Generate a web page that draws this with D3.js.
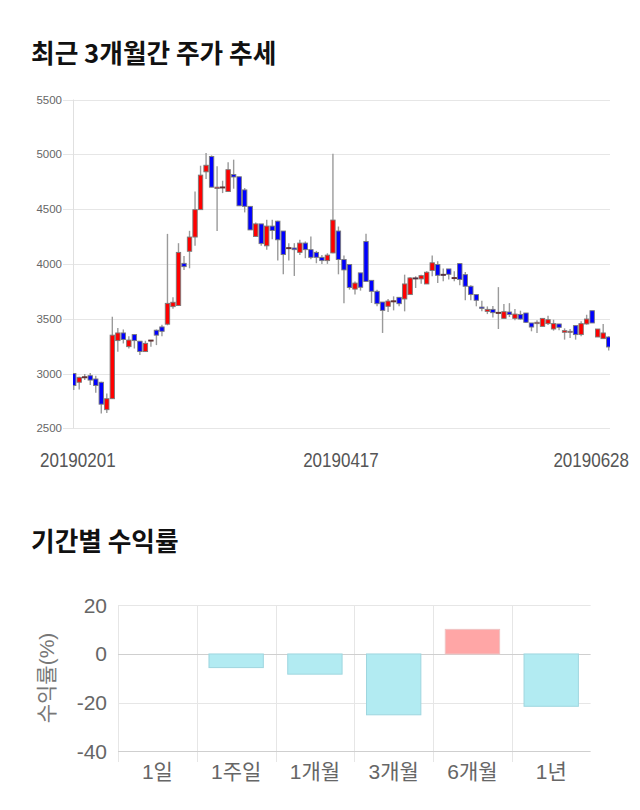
<!DOCTYPE html>
<html>
<head>
<meta charset="utf-8">
<script src="https://cdn.jsdelivr.net/npm/d3@7"></script>
<style>
  html, body { margin: 0; padding: 0; background: #fff; }
  svg { display: block; }
</style>
</head>
<body>
<script>
// ---------- Data ----------
const chartTitle = "최근 3개월간 주가 추세";
const returnsTitle = "기간별 수익률";

const openPrices = [3000,2920,2965,2980,2950,2920,2670,2770,3300,3370,3245,3355,3295,3200,3300,3395,3425,3450,3610,3620,
  4005,4115,4245,4495,4840,4980,4688,4700,4660,4815,4795,4675,4525,4250,4365,4165,4345,4390,4300,4145,
  4145,4105,4190,4130,4105,4060,4030,4100,4300,4040,3995,3770,3918,4205,3850,3750,3652,3613,3658,3695,
  3680,3720,3872,3863,3817,3940,3994,3905,3954,3868,4003,3902,3796,3720,3606,3567,3585,3555,3503,3561,
  3503,3539,3552,3461,3455,3430,3455,3406,3452,3376,3376,3437,3355,3452,3573,3333,3318,3333];
const highPrices = [3000,2970,2995,3005,2980,2925,2817,3518,3415,3402,3341,3356,3296,3299,3305,3402,3445,4274,3695,4189,
  4073,4302,4661,4896,5012,4990,4890,4759,4927,4951,4795,4692,4525,4378,4365,4402,4402,4393,4300,4189,
  4189,4220,4205,4250,4119,4082,4097,5006,4341,4076,3995,3840,3918,4274,3850,3765,3652,3680,3704,3695,
  3902,3878,3887,3902,3933,4076,4024,3957,3954,3933,4003,3927,3805,3720,3664,3612,3615,3788,3633,3642,
  3588,3573,3552,3461,3485,3503,3527,3491,3452,3412,3406,3437,3476,3536,3573,3406,3452,3340];
const lowPrices = [2850,2855,2940,2895,2825,2634,2640,2768,3198,3274,3228,3228,3168,3198,3245,3259,3341,3440,3590,3619,
  3945,3960,4165,4494,4774,4700,4300,4646,4660,4686,4530,4470,4310,4250,4165,4128,4225,4030,3905,4030,
  3890,4082,4052,4043,4006,4000,4000,4097,3905,3640,3765,3720,3756,3840,3643,3613,3370,3561,3576,3613,
  3567,3720,3780,3820,3817,3887,3826,3841,3857,3841,3805,3668,3668,3613,3567,3542,3512,3406,3503,3515,
  3485,3491,3461,3385,3370,3430,3442,3391,3394,3309,3324,3309,3340,3446,3461,3333,3318,3210];
const closePrices = [2890,2965,2970,2940,2890,2720,2770,3350,3370,3310,3305,3300,3200,3275,3305,3350,3385,3640,3650,4105,
  3975,4245,4495,4810,4900,4700,4700,4702,4860,4793,4530,4525,4310,4365,4185,4345,4305,4220,4085,4148,
  4130,4190,4130,4060,4060,4030,4080,4400,4040,3945,3785,3825,3787,3840,3750,3637,3576,3661,3663,3637,
  3817,3872,3865,3893,3924,4010,3896,3902,3905,3875,3857,3796,3720,3668,3594,3585,3555,3558,3564,3539,
  3542,3497,3467,3424,3467,3503,3491,3455,3421,3391,3385,3355,3455,3497,3461,3406,3370,3242];

const priceTicks = [2500, 3000, 3500, 4000, 4500, 5000, 5500];
const dateLabels = ["20190201", "20190417", "20190628"];
const dateLabelIndex = [0, 49, 97];

const periods = ["1일", "1주일", "1개월", "3개월", "6개월", "1년"];
const periodReturns = [0, -5.6, -8.3, -25.0, 10.1, -21.5];
const returnTicks = [-40, -20, 0, 20];
const returnAxisTitle = "수익률(%)";

// ---------- Setup ----------
const W = 640, H = 810;
const svg = d3.select("body").append("svg").attr("width", W).attr("height", H);
svg.append("rect").attr("width", W).attr("height", H).attr("fill", "#fff");

const hangulFont = "'Noto Sans CJK KR', 'Noto Sans', sans-serif";
const latinFont = "'Liberation Sans', Arial, 'Noto Sans CJK KR', sans-serif";

// ---------- Title 1 ----------
svg.append("text").attr("x", 31).attr("y", 63)
  .attr("font-family", hangulFont).attr("font-weight", "bold").attr("font-size", 25.7)
  .attr("fill", "#111").text(chartTitle);

// ---------- Candlestick chart ----------
const n = openPrices.length;
const candles = d3.range(n).map(i => ({i, o: openPrices[i], h: highPrices[i], l: lowPrices[i], c: closePrices[i]}));

const cx0 = 73.7, cx1 = 608.7;
const x = d3.scaleLinear().domain([0, n - 1]).range([cx0, cx1]);
const y = d3.scaleLinear().domain([2500, 5500]).range([428.3, 99.5]);

const grid = svg.append("g");
priceTicks.forEach(t => {
  grid.append("line").attr("x1", 63).attr("x2", 610)
    .attr("y1", Math.round(y(t)) + 0.5).attr("y2", Math.round(y(t)) + 0.5)
    .attr("stroke", "#e6e6e6").attr("stroke-width", 1);
  grid.append("text").attr("x", 62).attr("y", y(t)).attr("dy", "0.35em")
    .attr("text-anchor", "end").attr("font-family", latinFont).attr("font-size", 11.5)
    .attr("fill", "#666").text(t);
});
grid.append("line").attr("x1", 73.5).attr("x2", 73.5).attr("y1", y(5500)).attr("y2", y(2500))
  .attr("stroke", "#e0e0e0").attr("stroke-width", 1);

svg.append("defs").append("clipPath").attr("id", "plotClip")
  .append("rect").attr("x", 73).attr("y", 90).attr("width", 610 - 73).attr("height", 350);

const cg = svg.append("g").attr("clip-path", "url(#plotClip)");
const bodyW = 4.4;
cg.selectAll("line.wick").data(candles).join("line").attr("class", "wick")
  .attr("x1", d => x(d.i)).attr("x2", d => x(d.i))
  .attr("y1", d => y(d.h)).attr("y2", d => y(d.l))
  .attr("stroke", "#9a9a9a").attr("stroke-width", 1.4);
cg.selectAll("rect.body").data(candles).join("rect").attr("class", "body")
  .attr("x", d => x(d.i) - bodyW / 2).attr("width", bodyW)
  .attr("y", d => y(Math.max(d.o, d.c)))
  .attr("height", d => Math.max(1, Math.abs(y(d.o) - y(d.c))))
  .attr("fill", d => d.c >= d.o ? "#ff0000" : "#0000ff")
  .attr("stroke", d => Math.abs(d.c - d.o) < 8 ? "#553333" : "#7a7a7a").attr("stroke-width", 0.9);

// date labels (kept inside the picture edges)
dateLabels.forEach((lab, k) => {
  const t = svg.append("text").attr("font-family", latinFont).attr("font-size", 21)
    .attr("fill", "#555").attr("text-anchor", "middle").text(lab);
  const cxl = x(dateLabelIndex[k]) - 3;
  const sx = 0.81;
  t.attr("transform", `translate(${cxl},467) scale(${sx},1)`);
  const w = t.node().getComputedTextLength() * sx;
  let cx = cxl;
  if (cx - w / 2 < 40) cx = 40 + w / 2;
  if (cx + w / 2 > 629) cx = 629 - w / 2;
  t.attr("transform", `translate(${cx},467) scale(${sx},1)`);
});

// ---------- Title 2 ----------
svg.append("text").attr("x", 31).attr("y", 551)
  .attr("font-family", hangulFont).attr("font-weight", "bold").attr("font-size", 25.7)
  .attr("fill", "#111").text(returnsTitle);

// ---------- Returns bar chart ----------
const bx = d3.scaleBand().domain(periods).range([118, 590.6]).paddingInner(0.31).paddingOuter(0.155);
const by = d3.scaleLinear().domain([-40, 20]).range([751.3, 605.3]);
const step = bx.step();
const bandStart = c => bx(c) - bx.paddingOuter() * step;

const bg = svg.append("g");
periods.forEach(c => {
  const xs = Math.round(bandStart(c)) + 0.5;
  bg.append("line").attr("x1", xs).attr("x2", xs).attr("y1", by(20)).attr("y2", 762)
    .attr("stroke", "#e6e6e6").attr("stroke-width", 1);
});
returnTicks.forEach(t => {
  const yy = Math.round(by(t)) + 0.5;
  bg.append("line").attr("x1", 118).attr("x2", 590.6).attr("y1", yy).attr("y2", yy)
    .attr("stroke", (t === 0 || t === -40) ? "#cfcfcf" : "#e6e6e6").attr("stroke-width", 1);
  bg.append("text").attr("x", 107).attr("y", by(t)).attr("dy", "0.35em")
    .attr("text-anchor", "end").attr("font-family", latinFont).attr("font-size", 21)
    .attr("fill", "#666").text(t);
});

const bars = periods.map((c, i) => ({c, v: periodReturns[i]})).filter(d => d.v !== 0);
svg.append("g").selectAll("rect").data(bars).join("rect")
  .attr("x", d => bx(d.c)).attr("width", bx.bandwidth())
  .attr("y", d => by(Math.max(0, d.v))).attr("height", d => Math.abs(by(d.v) - by(0)))
  .attr("fill", d => d.v >= 0 ? "#ffa6a6" : "#b2ebf2")
  .attr("stroke", d => d.v >= 0 ? "#f0c4c4" : "#9fd6df").attr("stroke-width", 1);

periods.forEach(c => {
  svg.append("text").attr("x", bx(c) + bx.bandwidth() / 2).attr("y", 779)
    .attr("text-anchor", "middle").attr("font-family", latinFont).attr("font-size", 21)
    .attr("fill", "#666").text(c);
});

svg.append("text").attr("transform", "translate(54,678) rotate(-90)")
  .attr("text-anchor", "middle").attr("font-family", latinFont).attr("font-size", 21)
  .attr("fill", "#777").text(returnAxisTitle);
</script>
</body>
</html>
